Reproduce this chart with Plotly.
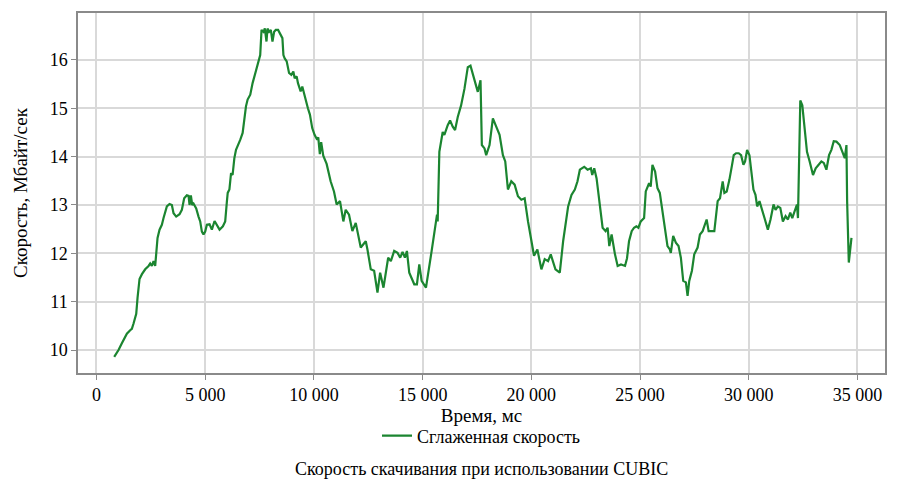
import plotly.graph_objects as go

time_ms = [815, 1014, 1167, 1275, 1398, 1550, 1627, 1705, 1828, 1890, 1980, 2090, 2240, 2395, 2470, 2547, 2624, 2700,
           2746, 2808, 2900, 3007, 3084, 3160, 3237, 3360, 3467, 3544, 3666, 3820, 3927, 4034, 4157, 4234, 4280, 4341,
           4403, 4464, 4586, 4693, 4770, 4847, 4923, 5000, 5077, 5200, 5307, 5430, 5537, 5660, 5813, 5920, 5997, 6036,
           6113, 6189, 6260, 6341, 6417, 6493, 6615, 6722, 6798, 6875, 6951, 7073, 7180, 7286, 7378, 7484, 7530, 7591,
           7682, 7743, 7819, 7865, 7941, 8018, 8094, 8170, 8246, 8353, 8444, 8551, 8597, 8658, 8749, 8856, 8962, 9054,
           9115, 9206, 9267, 9389, 9465, 9541, 9617, 9724, 9816, 9923, 10030, 10151, 10200, 10273, 10334, 10430, 10585,
           10769, 10923, 11046, 11200, 11354, 11462, 11615, 11769, 11923, 12154, 12385, 12462, 12615, 12769, 12923,
           13046, 13200, 13415, 13538, 13692, 13846, 13969, 14077, 14185, 14277, 14385, 14615, 14738, 14846, 14954,
           15154, 15415, 15585, 15662, 15692, 15769, 15923, 16000, 16154, 16262, 16385, 16492, 16615, 16769, 16923,
           17077, 17200, 17308, 17415, 17538, 17662, 17723, 17846, 17923, 18077, 18231, 18385, 18538, 18692, 18800,
           18923, 19077, 19231, 19385, 19538, 19692, 19846, 20000, 20123, 20277, 20462, 20615, 20769, 20892, 21000,
           21108, 21308, 21462, 21692, 21846, 22000, 22123, 22231, 22431, 22585, 22738, 22800, 22892, 23000, 23123,
           23277, 23415, 23508, 23585, 23692, 23846, 23969, 24123, 24308, 24400, 24492, 24615, 24723, 24830, 24923,
           25031, 25185, 25262, 25415, 25490, 25569, 25692, 25800, 25908, 26031, 26154, 26262, 26369, 26415, 26523,
           26646, 26769, 26877, 26985, 27108, 27185, 27262, 27385, 27492, 27646, 27754, 27877, 28062, 28154, 28415,
           28569, 28677, 28800, 28877, 28985, 29108, 29231, 29308, 29415, 29538, 29646, 29754, 29830, 29923, 30031,
           30138, 30215, 30308, 30385, 30492, 30615, 30723, 30877, 31000, 31138, 31231, 31338, 31450, 31569, 31692,
           31800, 31908, 32000, 32108, 32215, 32262, 32369, 32462, 32569, 32677, 32800, 32954, 33077, 33231, 33338,
           33450, 33569, 33692, 33800, 33908, 34031, 34185, 34308, 34415, 34492, 34523, 34600, 34677, 34723]

speed = [9.86, 10.0, 10.14, 10.24, 10.34, 10.41, 10.44, 10.55, 10.75, 11.09, 11.47, 11.57, 11.67, 11.74, 11.79, 11.74,
         11.84, 11.74, 12.01, 12.32, 12.49, 12.59, 12.73, 12.86, 12.97, 13.02, 13.0, 12.83, 12.76, 12.81, 12.90, 13.14,
         13.20, 13.19, 13.0, 13.20, 13.0, 13.03, 12.93, 12.76, 12.66, 12.45, 12.39, 12.45, 12.59, 12.60, 12.49, 12.67,
         12.59, 12.49, 12.56, 12.66, 13.07, 13.25, 13.32, 13.66, 13.62, 13.97, 14.14, 14.21, 14.35, 14.49, 14.80, 15.04,
         15.18, 15.28, 15.52, 15.69, 15.83, 16.0, 16.10, 16.62, 16.58, 16.65, 16.38, 16.65, 16.58, 16.62, 16.38, 16.58,
         16.62, 16.62, 16.55, 16.45, 16.10, 16.03, 15.97, 15.73, 15.69, 15.76, 15.62, 15.66, 15.52, 15.35, 15.45, 15.31,
         15.21, 15.0, 14.87, 14.59, 14.45, 14.35, 14.40, 14.05, 14.30, 14.02, 13.85, 13.49, 13.28, 13.01, 13.08, 12.66,
         12.90, 12.80, 12.46, 12.63, 12.12, 12.25, 12.08, 11.67, 11.64, 11.19, 11.60, 11.29, 11.91, 11.84, 12.05, 12.01,
         11.91, 12.03, 11.91, 12.05, 11.60, 11.36, 11.36, 11.77, 11.43, 11.29, 12.05, 12.53, 12.80, 12.66, 14.10, 14.51,
         14.45, 14.65, 14.75, 14.62, 14.55, 14.82, 15.06, 15.40, 15.85, 15.88, 15.71, 15.54, 15.34, 15.58, 14.24, 14.17,
         14.03, 14.24, 14.79, 14.62, 14.45, 14.03, 13.90, 13.32, 13.49, 13.42, 13.18, 13.11, 13.14, 12.66, 12.25, 11.95,
         12.08, 11.67, 11.88, 11.84, 11.98, 11.84, 11.67, 11.60, 12.25, 12.97, 13.21, 13.32, 13.49, 13.73, 13.79, 13.73,
         13.76, 13.62, 13.76, 13.55, 13.08, 12.53, 12.46, 12.53, 12.15, 12.39, 11.98, 11.74, 11.77, 11.74, 11.90, 12.25,
         12.46, 12.53, 12.56, 12.53, 12.66, 12.73, 13.28, 13.45, 13.38, 13.83, 13.69, 13.35, 13.25, 12.87, 12.46, 12.15,
         12.08, 12.01, 12.36, 12.22, 12.15, 11.91, 11.43, 11.40, 11.12, 11.43, 11.64, 11.98, 12.12, 12.39, 12.46, 12.70,
         12.46, 12.46, 13.08, 13.14, 13.49, 13.25, 13.28, 13.52, 13.83, 14.03, 14.07, 14.07, 14.03, 13.83, 13.90, 14.14,
         14.03, 13.62, 13.32, 13.21, 12.97, 13.08, 12.87, 12.73, 12.49, 12.70, 13.01, 12.90, 12.97, 12.94, 12.66, 12.77,
         12.70, 12.84, 12.73, 12.87, 13.01, 12.73, 15.16, 15.06, 14.58, 14.10, 13.90, 13.62, 13.76, 13.83, 13.90, 13.87,
         13.73, 14.03, 14.14, 14.32, 14.31, 14.24, 14.07, 13.97, 14.24, 13.08, 11.81, 12.18, 12.32]

x_tick_vals = [0, 5000, 10000, 15000, 20000, 25000, 30000, 35000]
x_tick_text = ["0", "5 000", "10 000", "15 000", "20 000", "25 000", "30 000", "35 000"]
y_tick_vals = [10, 11, 12, 13, 14, 15, 16]

series_name = "Сглаженная скорость"
x_title = "Время, мс"
y_title = "Скорость, Мбайт/сек"
caption = "Скорость скачивания при использовании CUBIC"

FONT = "Liberation Serif"

fig = go.Figure()
fig.add_trace(go.Scatter(x=time_ms, y=speed, mode="lines", name=series_name,
                         line=dict(color="#1b8530", width=2.2)))

axis_common = dict(showgrid=True, gridcolor="#d9d9d9", gridwidth=1.5, zeroline=False,
                   showline=True, linecolor="#8a8a8a", linewidth=1.5, mirror=True,
                   ticks="outside", ticklen=5, tickcolor="#8a8a8a",
                   tickfont=dict(family=FONT, size=18, color="#000000"))

fig.update_layout(
    width=908, height=491,
    margin=dict(l=78, r=23, t=11, b=118),
    paper_bgcolor="white", plot_bgcolor="white",
    font=dict(family=FONT, color="#000000"),
    showlegend=True,
    legend=dict(orientation="h", x=0.5, xanchor="center", y=-0.175, yanchor="middle",
                font=dict(family=FONT, size=18), itemwidth=30),
    xaxis=dict(range=[-850, 36265], tickvals=x_tick_vals, ticktext=x_tick_text,
               title=dict(text=x_title, font=dict(family=FONT, size=19), standoff=2),
               **axis_common),
    yaxis=dict(range=[9.526, 16.97], tickvals=y_tick_vals,
               title=dict(text=y_title, font=dict(family=FONT, size=19), standoff=17),
               **axis_common),
    annotations=[dict(text=caption, x=0.5, y=-0.268, xref="paper", yref="paper",
                      xanchor="center", yanchor="middle", showarrow=False,
                      font=dict(family=FONT, size=18))],
)

fig.write_html("out.html")
